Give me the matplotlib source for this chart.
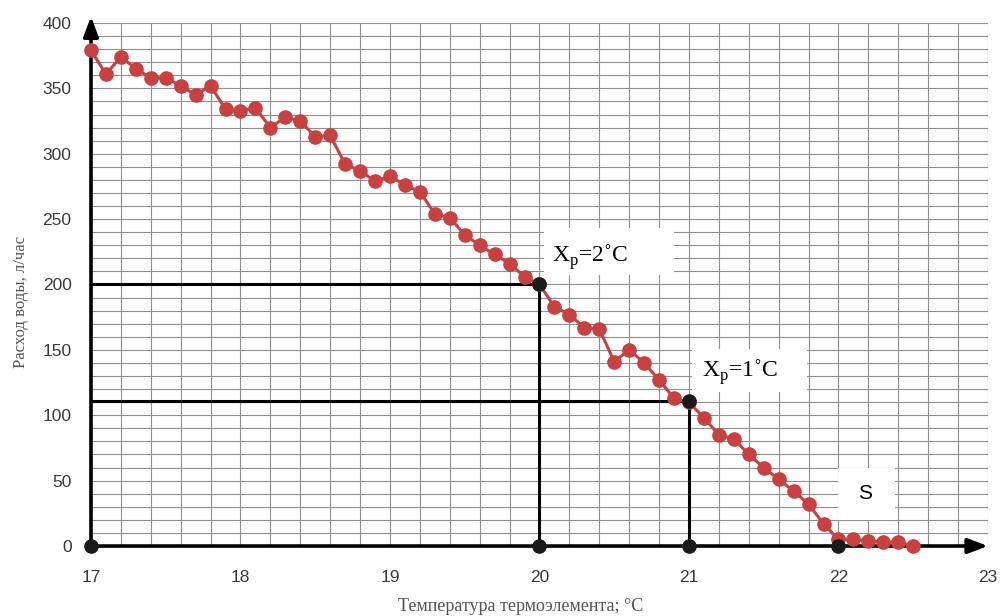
import numpy as np
import matplotlib.pyplot as plt
from matplotlib.patches import Rectangle

# Measured water flow vs thermoelement temperature
temp = np.round(np.arange(17.0, 22.51, 0.1), 1)
flow = [379, 361, 374, 365, 358, 358, 352, 345, 352, 334,
        333, 335, 320, 328, 325, 313, 314, 292, 287, 279,
        283, 276, 271, 254, 251, 238, 230, 223, 216, 206,
        200, 183, 177, 167, 166, 141, 150, 140, 127, 113,
        110, 98, 85, 82, 70, 60, 51, 42, 32, 17,
        5, 5, 4, 3, 3, 0]

# Reference points (Xp construction)
key_x = [17, 20, 21, 22, 20, 21]
key_y = [0, 0, 0, 0, 200, 111]
xp_levels = [(20, 200), (21, 111)]

x_ticks = [17, 18, 19, 20, 21, 22, 23]
y_ticks = [0, 50, 100, 150, 200, 250, 300, 350, 400]

fig = plt.figure(figsize=(10.01, 6.16), dpi=100)
ax = fig.add_axes([0.0909, 0.1136, 0.8961, 0.8491])

ax.set_xlim(17, 23)
ax.set_ylim(0, 400)
ax.set_xticks(x_ticks)
ax.set_yticks(y_ticks)
ax.set_xticks(np.arange(17, 23.01, 0.2), minor=True)
ax.set_yticks(np.arange(0, 401, 10), minor=True)
ax.grid(True, which='both', color='#909090', linewidth=0.8)
ax.tick_params(which='both', length=0)
ax.tick_params(axis='x', pad=17, labelsize=12.5, labelcolor='#3a3a3a')
ax.tick_params(axis='y', pad=14, labelsize=12.5, labelcolor='#3a3a3a')
for lbl in ax.get_xticklabels() + ax.get_yticklabels():
    lbl.set_family('Liberation Sans')
for s in ax.spines.values():
    s.set_visible(False)

# axis arrows
ax.annotate('', xy=(17, 405), xytext=(17, 0), annotation_clip=False,
            arrowprops=dict(arrowstyle='-|>,head_length=1.2,head_width=0.45', color='black', lw=2.6,
                            shrinkA=0, shrinkB=0))
ax.annotate('', xy=(23, 0), xytext=(17, 0), annotation_clip=False,
            arrowprops=dict(arrowstyle='-|>,head_length=1.2,head_width=0.45', color='black', lw=2.6,
                            shrinkA=0, shrinkB=0))

# Xp construction lines
for xv, yv in xp_levels:
    ax.plot([17, xv], [yv, yv], color='black', lw=2.2, zorder=4)
    ax.plot([xv, xv], [yv, 0], color='black', lw=2.2, zorder=4)

ax.plot(temp, flow, color='#c8403f', lw=2.2, marker='o', markersize=9.5,
        clip_on=False, zorder=5)
ax.plot(key_x, key_y, 'o', color='#1a1a1a', markersize=9.5, clip_on=False, zorder=6)

# label boxes
for x0, y0, w, h in [(20.03, 207, 0.87, 36), (21.02, 118, 0.77, 33), (22.0, 20, 0.38, 40)]:
    ax.add_patch(Rectangle((x0, y0), w, h, facecolor='white', edgecolor='none', zorder=3))

serif = ['Liberation Serif', 'DejaVu Serif']
ax.text(20.34, 221, r'X$_\mathregular{p}$=2˚C', fontsize=17, family=serif,
        ha='center', va='center', zorder=7)
ax.text(21.34, 133, r'X$_\mathregular{p}$=1˚C', fontsize=17, family=serif,
        ha='center', va='center', zorder=7)
ax.text(22.18, 40, 'S', fontsize=15, family='Liberation Sans',
        ha='center', va='center', zorder=7)

fig.text(0.52, 0.016, 'Температура термоэлемента; °C', fontsize=13, family=serif,
         color='#555555', ha='center', va='center')
fig.text(0.021, 0.51, 'Расход воды, л/час', fontsize=12, family=serif,
         color='#555555', ha='center', va='center', rotation=90)

fig.savefig('out.png', dpi=100)
